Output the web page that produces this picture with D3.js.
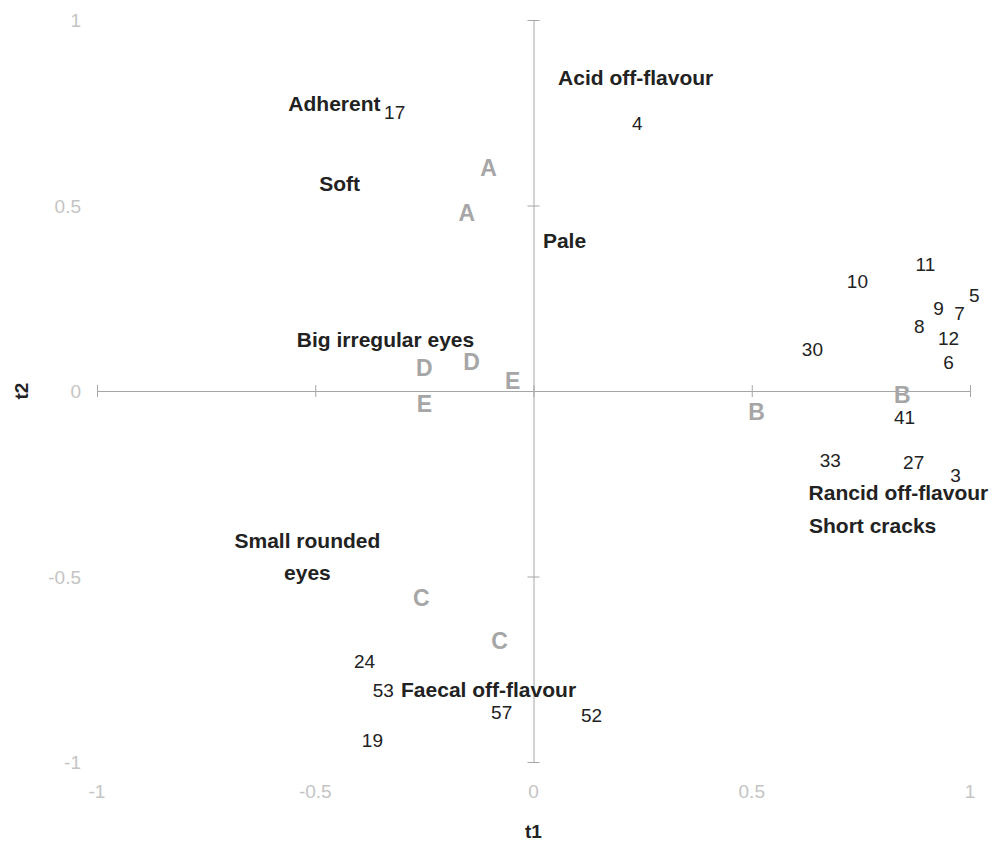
<!DOCTYPE html>
<html>
<head>
<meta charset="utf-8">
<script src="https://cdn.jsdelivr.net/npm/d3@7"></script>
<style>
  body { margin: 0; background: #fff; }
  text { font-family: "Liberation Sans", Arial, sans-serif; }
</style>
</head>
<body>
<div id="chart"></div>
<script>
// observations (label, t1, t2)
var obsLabels = ["17", "4", "11", "10", "5", "9", "7", "8", "12", "6", "30", "41", "33", "27", "3", "24", "53", "57", "52", "19"]
var obsX = [-0.318, 0.238, 0.898, 0.742, 1.010, 0.928, 0.976, 0.884, 0.951, 0.951, 0.639, 0.850, 0.680, 0.871, 0.967, -0.387, -0.344, -0.073, 0.133, -0.369]
var obsY = [0.752, 0.722, 0.342, 0.296, 0.259, 0.224, 0.210, 0.173, 0.143, 0.078, 0.111, -0.070, -0.186, -0.191, -0.228, -0.728, -0.806, -0.865, -0.873, -0.941]

// sensory variables
var varLabels = ["Adherent", "Soft", "Acid off-flavour", "Pale", "Big irregular eyes", "Rancid off-flavour", "Short cracks", "Small rounded\neyes", "Faecal off-flavour"]
var varX = [-0.456, -0.444, 0.234, 0.071, -0.339, 0.836, 0.777, -0.518, -0.103]
var varY = [0.774, 0.558, 0.844, 0.404, 0.138, -0.274, -0.362, -0.447, -0.806]

// groups
var grpLabels = ["A", "A", "D", "D", "E", "E", "B", "B", "C", "C"]
var grpX = [-0.103, -0.153, -0.250, -0.142, -0.048, -0.250, 0.845, 0.511, -0.257, -0.078]
var grpY = [0.601, 0.480, 0.062, 0.078, 0.027, -0.035, -0.011, -0.057, -0.558, -0.674]

var xTicks = [-1, -0.5, 0, 0.5, 1]
var yTicks = [-1, -0.5, 0, 0.5, 1]

var W = 993, H = 841
var margin = { top: 20, right: 23, bottom: 79, left: 97 }

var svg = d3.select("#chart").append("svg")
    .attr("width", W)
    .attr("height", H)

var xScale = d3.scaleLinear().domain([-1, 1]).range([margin.left, W - margin.right])
var yScale = d3.scaleLinear().domain([-1, 1]).range([H - margin.bottom, margin.top])

var axisColor = "#a6a6a6"

// axes crossing at the origin
var xAxis = d3.axisBottom(xScale).tickValues(xTicks).tickSizeInner(6).tickSizeOuter(0).tickFormat("")
var gx = svg.append("g")
    .attr("transform", "translate(0," + yScale(0) + ")")
    .call(xAxis)
gx.selectAll(".tick line").attr("y1", -6).attr("y2", 6)

var yAxis = d3.axisLeft(yScale).tickValues(yTicks).tickSizeInner(6).tickSizeOuter(0).tickFormat("")
var gy = svg.append("g")
    .attr("transform", "translate(" + xScale(0) + ",0)")
    .call(yAxis)
gy.selectAll(".tick line").attr("x1", -6).attr("x2", 6)

svg.selectAll(".domain, .tick line").attr("stroke", axisColor).attr("stroke-width", 1)

// tick labels at the plot edges
svg.selectAll(".xlab").data(xTicks).enter().append("text")
    .attr("x", d => xScale(d))
    .attr("y", 798)
    .attr("text-anchor", "middle")
    .attr("font-size", "19px")
    .attr("fill", "#c4c4c4")
    .text(d => d)

svg.selectAll(".ylab").data(yTicks).enter().append("text")
    .attr("x", 81)
    .attr("y", d => yScale(d) + 7)
    .attr("text-anchor", "end")
    .attr("font-size", "19px")
    .attr("fill", "#c4c4c4")
    .text(d => d)

// axis titles
svg.append("text")
    .attr("x", xScale(0))
    .attr("y", 838)
    .attr("text-anchor", "middle")
    .attr("font-size", "19px")
    .attr("font-weight", "bold")
    .attr("fill", "#222")
    .text("t1")

svg.append("text")
    .attr("transform", "translate(28," + yScale(0) + ") rotate(-90)")
    .attr("text-anchor", "middle")
    .attr("font-size", "19px")
    .attr("font-weight", "bold")
    .attr("fill", "#222")
    .text("t2")

// group letters
svg.selectAll(".grp").data(grpLabels).enter().append("text")
    .attr("x", (d, i) => xScale(grpX[i]))
    .attr("y", (d, i) => yScale(grpY[i]))
    .attr("dy", "0.35em")
    .attr("text-anchor", "middle")
    .attr("font-size", "23px")
    .attr("font-weight", "bold")
    .attr("fill", "#a6a6a6")
    .text(d => d)

// observations
svg.selectAll(".obs").data(obsLabels).enter().append("text")
    .attr("x", (d, i) => xScale(obsX[i]))
    .attr("y", (d, i) => yScale(obsY[i]))
    .attr("dy", "0.35em")
    .attr("text-anchor", "middle")
    .attr("font-size", "19px")
    .attr("fill", "#222")
    .text(d => d)

// variables
var vt = svg.selectAll(".var").data(varLabels).enter().append("text")
    .attr("text-anchor", "middle")
    .attr("font-size", "21px")
    .attr("font-weight", "bold")
    .attr("fill", "#222")

vt.each(function(d, i) {
    var lines = d.split("\n")
    var cx = xScale(varX[i])
    var cy = yScale(varY[i]) - (lines.length - 1) * 16
    var t = d3.select(this)
    lines.forEach(function(line, j) {
        t.append("tspan")
            .attr("x", cx)
            .attr("y", cy + j * 32)
            .attr("dy", "0.35em")
            .text(line)
    })
})
</script>
</body>
</html>
